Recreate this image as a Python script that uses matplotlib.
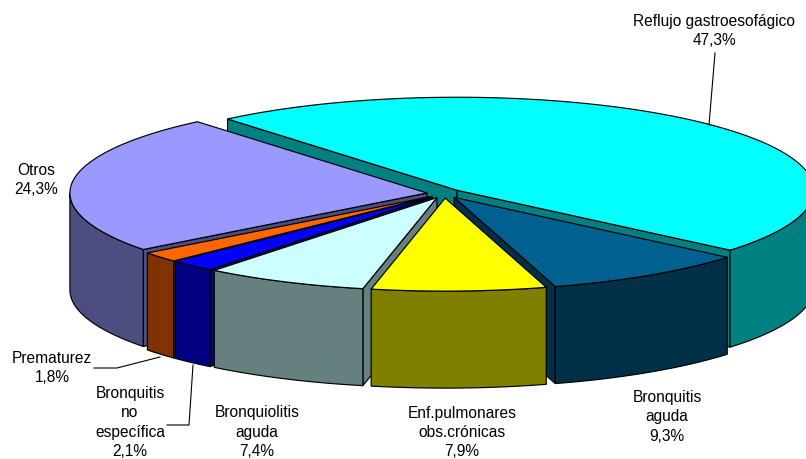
import matplotlib
matplotlib.use("Agg")
import matplotlib.pyplot as plt
import numpy as np

plt.rcParams['font.family'] = ['Liberation Sans', 'DejaVu Sans']

# chart data, clockwise from the back of the pie
labels = ["Reflujo gastroesofágico\n47,3%", "Bronquitis\naguda\n9,3%",
          "Enf.pulmonares\nobs.crónicas\n7,9%", "Bronquiolitis\naguda\n7,4%",
          "Bronquitis\nno\nespecífica\n2,1%", "Prematurez\n1,8%", "Otros\n24,3%"]
values = [47.3, 9.3, 7.9, 7.4, 2.1, 1.8, 24.3]

top_colors = ["#00FFFF", "#006090", "#FFFF00", "#CCFFFF", "#0000FF", "#FF6600", "#9999FF"]
side_colors = ["#008080", "#003048", "#808000", "#668080", "#000080", "#803300", "#4D4D80"]

label_pos = [(714, 31), (667, 417), (462, 432.5), (257, 432), (130, 422.5), (52, 368), (36, 180)]

# leader lines
leaders = [[(715, 53), (709, 125)],
           [(94, 368), (117, 368), (160, 357)],
           [(167, 425), (189, 425), (193, 365)]]

# pie geometry, in pixels
CX, CY = 444.5, 193.5
RX, RY = 357, 93
DEPTH = 97
EXPLODE = 17.7
START = 130


def rim(cx, cy, t):
    t = np.radians(t)
    return cx + RX * np.cos(t), cy - RY * np.sin(t)


fig = plt.figure(figsize=(8.06, 4.59), dpi=100)
ax = fig.add_axes([0, 0, 1, 1])
ax.set_xlim(0, 806)
ax.set_ylim(459, 0)
ax.axis("off")

frac = np.array(values) / sum(values) * 360
ends = START - np.cumsum(frac)
starts = ends + frac
mids = (starts + ends) / 2

# paint from back to front
order = np.argsort(-np.sin(np.radians(mids)))
for i in order:
    a, b = starts[i], ends[i]
    m = np.radians(mids[i])
    cx = CX + EXPLODE * np.cos(m)
    cy = CY - EXPLODE * RY / RX * np.sin(m)
    ts = np.linspace(a, b, 200)
    xs, ys = rim(cx, cy, ts)
    style = dict(edgecolor="black", linewidth=0.85, joinstyle="round")

    # radial walls, only those turned to the viewer
    for t, visible in ((a, np.cos(np.radians(a)) < 0), (b, np.cos(np.radians(b)) > 0)):
        if visible:
            x, y = rim(cx, cy, t)
            ax.fill([cx, x, x, cx], [cy, y, y + DEPTH, cy + DEPTH], facecolor=side_colors[i], **style)

    # outer wall, only the part that faces the viewer
    front = np.sin(np.radians(ts)) <= 0
    if front.any():
        fx, fy = xs[front], ys[front]
        ax.fill(np.r_[fx, fx[::-1]], np.r_[fy, fy[::-1] + DEPTH], facecolor=side_colors[i], **style)

    ax.fill(np.r_[cx, xs], np.r_[cy, ys], facecolor=top_colors[i], **style)

for pts in leaders:
    ax.plot([p[0] for p in pts], [p[1] for p in pts], color="black", lw=0.8)

for lab, (x, y) in zip(labels, label_pos):
    ax.text(x, y, lab, ha="center", va="center", fontsize=11.2, linespacing=1.335, color="black")

fig.savefig("out.png", dpi=100)
